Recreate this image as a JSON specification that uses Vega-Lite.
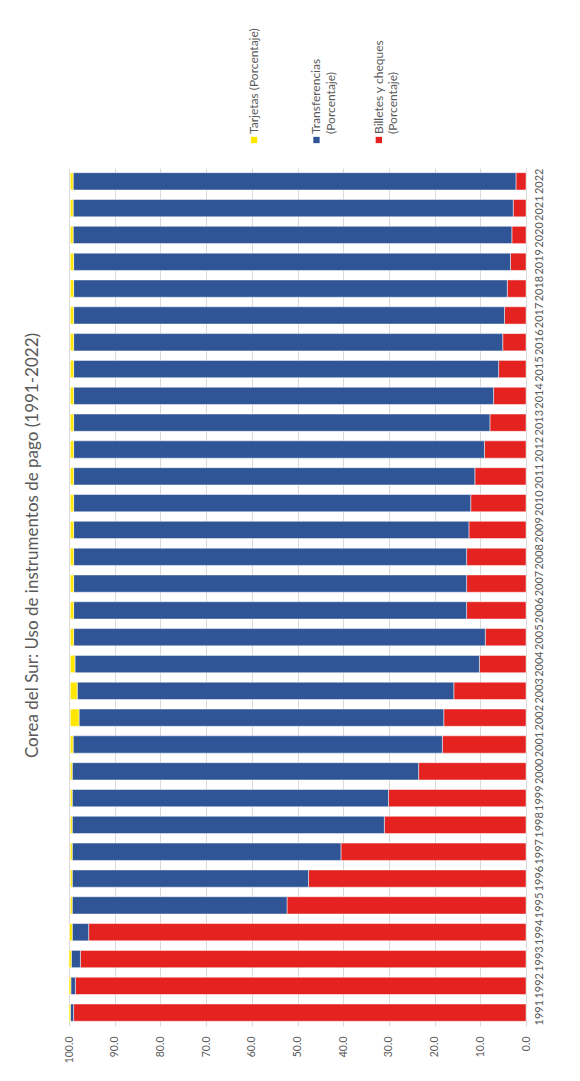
{
  "$schema": "https://vega.github.io/schema/vega-lite/v6.json",
  "background": "white",
  "padding": {"left": 23, "top": 28, "right": 5, "bottom": 5},
  "title": {
    "text": "Corea del Sur: Uso de instrumentos de pago (1991-2022)",
    "orient": "left",
    "anchor": "middle",
    "font": "Lato",
    "fontSize": 17,
    "fontWeight": "normal",
    "color": "#595959",
    "offset": 22
  },
  "config": {"view": {"stroke": null}, "font": "Lato"},
  "spacing": 0,
  "vconcat": [
    {
      "width": 457,
      "height": 56,
      "data": {
        "values": [
          {"serie": "tarjetas", "etiqueta": "Tarjetas (Porcentaje)"},
          {"serie": "transferencias", "etiqueta": "Transferencias\n(Porcentaje)"},
          {"serie": "billetes", "etiqueta": "Billetes y cheques\n(Porcentaje)"}
        ]
      },
      "encoding": {
        "x": {
          "field": "serie",
          "type": "nominal",
          "axis": null,
          "scale": {
            "type": "point",
            "domain": ["tarjetas", "transferencias", "billetes"],
            "padding": 0,
            "range": [{"expr": "width * 0.405"}, {"expr": "width * 0.678"}]
          }
        }
      },
      "layer": [
        {
          "mark": {"type": "square", "size": 40, "filled": true, "opacity": 1},
          "encoding": {
            "color": {
              "field": "serie",
              "type": "nominal",
              "scale": {"domain": ["billetes", "transferencias", "tarjetas"], "range": ["#E42320", "#2F5597", "#FFE600"]},
              "legend": null
            }
          }
        },
        {
          "mark": {
            "type": "text",
            "angle": 270,
            "align": "left",
            "baseline": "middle",
            "dx": 6,
            "lineBreak": "\n",
            "lineHeight": 14.5,
            "fontSize": 12,
            "color": "#595959"
          },
          "encoding": {"text": {"field": "etiqueta"}}
        }
      ]
    },
    {
      "width": 457,
      "height": 858,
      "data": {
        "values": [
          {"anio": "2022", "billetes": 2.2, "transferencias": 96.9, "tarjetas": 0.6},
          {"anio": "2021", "billetes": 2.8, "transferencias": 96.3, "tarjetas": 0.6},
          {"anio": "2020", "billetes": 3.1, "transferencias": 96.0, "tarjetas": 0.6},
          {"anio": "2019", "billetes": 3.4, "transferencias": 95.6, "tarjetas": 0.7},
          {"anio": "2018", "billetes": 4.1, "transferencias": 94.9, "tarjetas": 0.7},
          {"anio": "2017", "billetes": 4.7, "transferencias": 94.3, "tarjetas": 0.7},
          {"anio": "2016", "billetes": 5.1, "transferencias": 93.9, "tarjetas": 0.7},
          {"anio": "2015", "billetes": 6.0, "transferencias": 93.0, "tarjetas": 0.7},
          {"anio": "2014", "billetes": 7.1, "transferencias": 91.9, "tarjetas": 0.7},
          {"anio": "2013", "billetes": 7.9, "transferencias": 91.1, "tarjetas": 0.7},
          {"anio": "2012", "billetes": 9.1, "transferencias": 89.9, "tarjetas": 0.7},
          {"anio": "2011", "billetes": 11.2, "transferencias": 87.8, "tarjetas": 0.7},
          {"anio": "2010", "billetes": 12.1, "transferencias": 86.9, "tarjetas": 0.7},
          {"anio": "2009", "billetes": 12.5, "transferencias": 86.5, "tarjetas": 0.7},
          {"anio": "2008", "billetes": 13.0, "transferencias": 86.0, "tarjetas": 0.7},
          {"anio": "2007", "billetes": 13.0, "transferencias": 86.0, "tarjetas": 0.7},
          {"anio": "2006", "billetes": 13.0, "transferencias": 86.0, "tarjetas": 0.7},
          {"anio": "2005", "billetes": 8.9, "transferencias": 90.1, "tarjetas": 0.7},
          {"anio": "2004", "billetes": 10.2, "transferencias": 88.5, "tarjetas": 1.0},
          {"anio": "2003", "billetes": 15.8, "transferencias": 82.4, "tarjetas": 1.5},
          {"anio": "2002", "billetes": 18.0, "transferencias": 79.8, "tarjetas": 1.9},
          {"anio": "2001", "billetes": 18.3, "transferencias": 80.8, "tarjetas": 0.6},
          {"anio": "2000", "billetes": 23.5, "transferencias": 75.8, "tarjetas": 0.4},
          {"anio": "1999", "billetes": 30.1, "transferencias": 69.2, "tarjetas": 0.4},
          {"anio": "1998", "billetes": 31.0, "transferencias": 68.3, "tarjetas": 0.4},
          {"anio": "1997", "billetes": 40.5, "transferencias": 58.8, "tarjetas": 0.4},
          {"anio": "1996", "billetes": 47.6, "transferencias": 51.7, "tarjetas": 0.4},
          {"anio": "1995", "billetes": 52.3, "transferencias": 47.0, "tarjetas": 0.4},
          {"anio": "1994", "billetes": 95.7, "transferencias": 3.6, "tarjetas": 0.6},
          {"anio": "1993", "billetes": 97.5, "transferencias": 2.0, "tarjetas": 0.5},
          {"anio": "1992", "billetes": 98.6, "transferencias": 1.0, "tarjetas": 0.4},
          {"anio": "1991", "billetes": 99.0, "transferencias": 0.7, "tarjetas": 0.3}
        ]
      },
      "transform": [
        {"fold": ["billetes", "transferencias", "tarjetas"], "as": ["serie", "pct"]},
        {"calculate": "datum.serie === 'billetes' ? 0 : datum.serie === 'transferencias' ? 1 : 2", "as": "orden"}
      ],
      "mark": {"type": "bar", "stroke": "white", "strokeWidth": 0.8, "strokeOpacity": 0.6},
      "encoding": {
        "y": {
          "field": "anio",
          "type": "ordinal",
          "sort": "descending",
          "scale": {"paddingInner": 0.355, "paddingOuter": 0.175},
          "axis": {
            "orient": "right",
            "title": null,
            "labelAngle": 270,
            "labelFontSize": 11,
            "labelColor": "#595959",
            "ticks": false,
            "domainColor": "#d9d9d9",
            "labelPadding": 7
          }
        },
        "x": {
          "field": "pct",
          "type": "quantitative",
          "stack": "zero",
          "scale": {"domain": [0, 100], "reverse": true, "nice": false},
          "axis": {
            "orient": "bottom",
            "title": null,
            "values": [0, 10, 20, 30, 40, 50, 60, 70, 80, 90, 100],
            "format": ".1f",
            "labelAngle": 270,
            "labelFontSize": 10.5,
            "labelColor": "#595959",
            "ticks": false,
            "domain": false,
            "gridColor": "#d9d9d9",
            "labelPadding": 10
          }
        },
        "color": {
          "field": "serie",
          "type": "nominal",
          "scale": {"domain": ["billetes", "transferencias", "tarjetas"], "range": ["#E42320", "#2F5597", "#FFE600"]},
          "legend": null
        },
        "order": {"field": "orden", "type": "quantitative"}
      }
    }
  ]
}
